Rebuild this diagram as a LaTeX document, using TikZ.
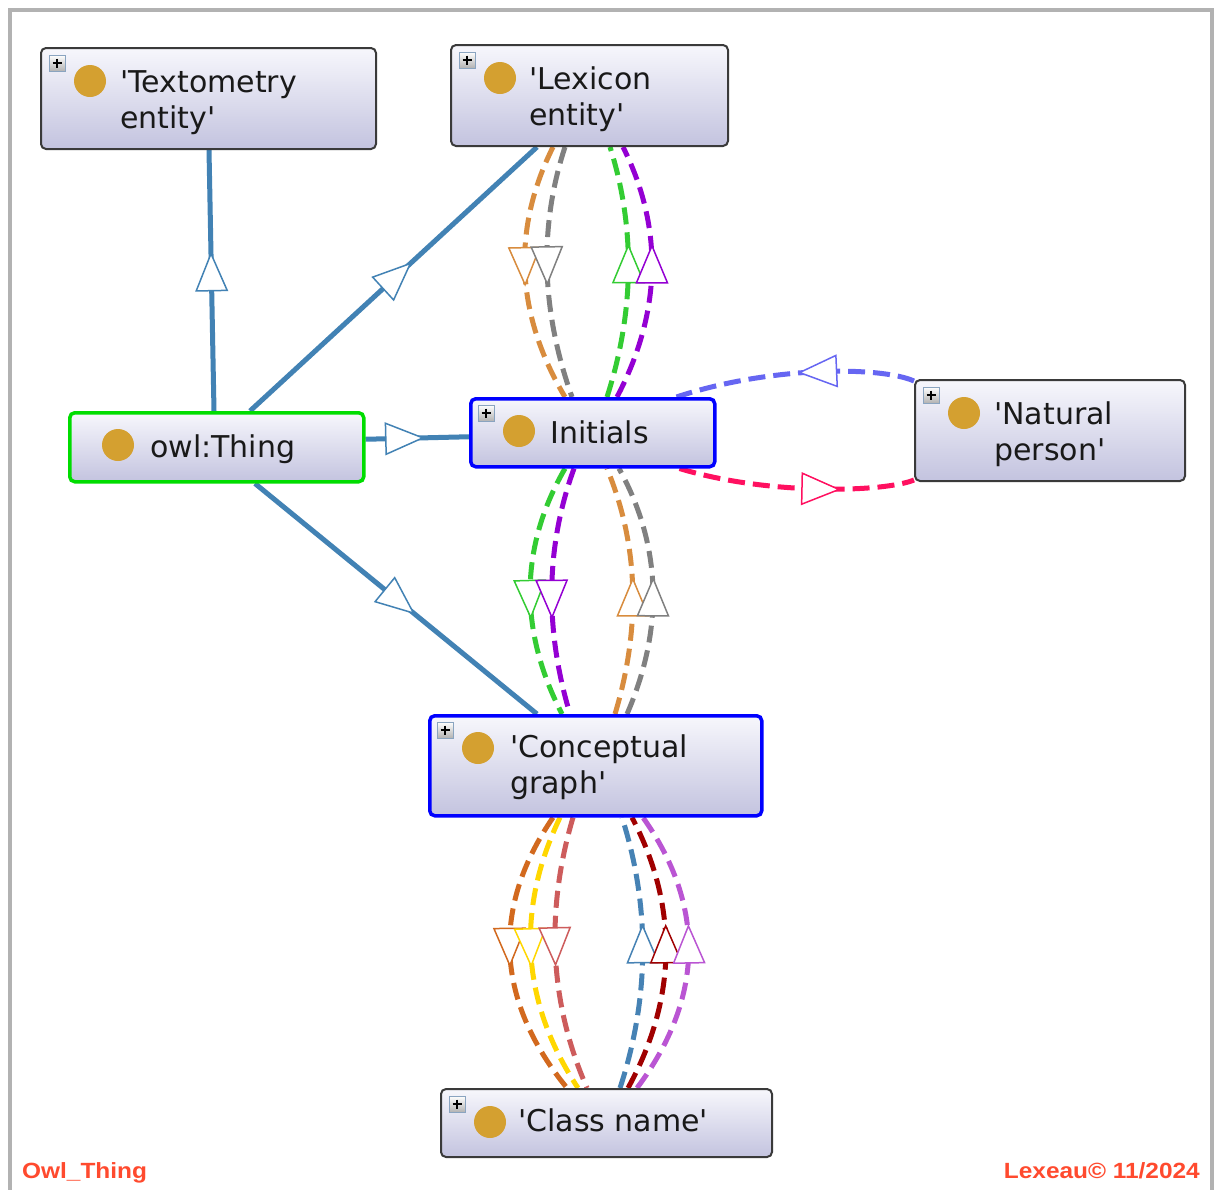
\documentclass[tikz,border=0pt]{standalone}
\usepackage{fontspec}
\newfontfamily\lblfont{DejaVu Sans}
\newfontfamily\footfont{Liberation Sans}
\usetikzlibrary{calc,decorations.markings}
\pgfdeclarelayer{bg}
\pgfsetlayers{bg,main}
\definecolor{boxtop}{HTML}{F7F7FC}
\definecolor{boxbot}{HTML}{C3C3DF}
\definecolor{boxborder}{HTML}{3A3A3A}
\definecolor{steel}{RGB}{66,130,180}
\definecolor{gold}{RGB}{212,160,48}
\definecolor{plusedge}{HTML}{8AA4C0}
\definecolor{footred}{HTML}{FF4A2E}
\definecolor{cPeru}{HTML}{D88C3E}
\definecolor{cGray}{HTML}{808080}
\definecolor{cGreen}{HTML}{33CC33}
\definecolor{cPurple}{HTML}{9400D3}
\definecolor{cViolet}{HTML}{6666F2}
\definecolor{cPink}{HTML}{FF1060}
\definecolor{cChoc}{HTML}{D2691E}
\definecolor{cYellow}{HTML}{FFD700}
\definecolor{cIndian}{HTML}{CD5C5C}
\definecolor{cSteel}{HTML}{4682B4}
\definecolor{cDarkred}{HTML}{A00000}
\definecolor{cOrchid}{HTML}{BA55D3}
\definecolor{cLime}{HTML}{00DD00}
\newcommand{\myq}{\textquotesingle}
\newcommand{\plusicon}[1]{%
  \draw[draw=plusedge, line width=0.9pt, top color=white, bottom color=black!30]
    ($(#1.north west)+(9,8)$) rectangle ($(#1.north west)+(25,24)$);
  \draw[line width=1.8pt, black]
    ($(#1.north west)+(12.5,16)$) -- ($(#1.north west)+(21.5,16)$)
    ($(#1.north west)+(17,11.5)$) -- ($(#1.north west)+(17,20.5)$);}
\newcommand{\ballicon}[1]{\fill[gold] ($(#1.north west)+(50,34)$) circle (16pt);}
\tikzset{
  cbox/.style={draw=boxborder, line width=2pt, rounded corners=5pt,
    top color=boxtop, bottom color=boxbot, inner sep=0pt, anchor=north west},
  bluebox/.style={cbox, draw=blue, line width=3.5pt},
  greenbox/.style={cbox, draw=cLime, line width=3.5pt},
  lbl/.style={font=\lblfont\fontsize{30}{36}\selectfont, inner sep=0pt, text=black!90, anchor=base west},
  foot/.style={font=\footfont\bfseries\fontsize{22}{26}\selectfont, text=footred, inner sep=0pt},
  midtri/.style 2 args={postaction={decorate, decoration={markings,
    mark=at position #2 with {\draw[solid, line width=1.5pt, draw=#1, fill=white]
      (-18pt,-15.5pt) -- (19pt,0pt) -- (-18pt,15.5pt) -- cycle;}}}},
  dedge/.style 2 args={draw=#1, line width=5pt, dash pattern=on 17pt off 8pt, midtri={#1}{#2}},
  sedge/.style={draw=steel, line width=5pt, midtri={steel}{#1}},
}
\begin{document}
\begin{tikzpicture}[x=1pt, y=-1pt]
\useasboundingbox (0,0) rectangle (1214,1189);

% boxes
\node[cbox, minimum width=335pt, minimum height=101pt] (tex) at (40,47) {};
\node[cbox, minimum width=277pt, minimum height=101pt] (lex) at (450,44) {};
\node[greenbox, minimum width=294pt, minimum height=69pt] (owl) at (68,411) {};
\node[bluebox, minimum width=244pt, minimum height=68pt] (ini) at (469,397) {};
\node[cbox, minimum width=270pt, minimum height=101pt] (nat) at (914,379) {};
\node[bluebox, minimum width=332pt, minimum height=100pt] (conc) at (428,714) {};
\node[cbox, minimum width=331pt, minimum height=68pt] (cls) at (440,1088) {};

\plusicon{tex}\plusicon{lex}\plusicon{ini}\plusicon{nat}\plusicon{conc}\plusicon{cls}
\ballicon{tex}\ballicon{lex}\ballicon{owl}\ballicon{ini}\ballicon{nat}\ballicon{conc}\ballicon{cls}

\node[lbl] (tex-t) at ($(tex.north west)+(80,45)$) {\begin{tabular}[t]{@{}l@{}}\myq Textometry\\ entity\myq\end{tabular}};
\node[lbl] (lex-t) at ($(lex.north west)+(79,45)$) {\begin{tabular}[t]{@{}l@{}}\myq Lexicon\\ entity\myq\end{tabular}};
\node[lbl] (owl-t) at ($(owl.north west)+(82,46)$) {owl:Thing};
\node[lbl] (ini-t) at ($(ini.north west)+(81,46)$) {Initials};
\node[lbl] (nat-t) at ($(nat.north west)+(80,45)$) {\begin{tabular}[t]{@{}l@{}}\myq Natural\\ person\myq\end{tabular}};
\node[lbl] (conc-t) at ($(conc.north west)+(82,43)$) {\begin{tabular}[t]{@{}l@{}}\myq Conceptual\\ graph\myq\end{tabular}};
\node[lbl] (cls-t) at ($(cls.north west)+(78,43)$) {\myq Class name\myq};

\node[foot, anchor=base west] (ft1) at (22,1178) {\scalebox{1.11}[1]{Owl\_Thing}};
\node[foot, anchor=base east] (ft2) at (1200,1178) {\scalebox{1.11}[1]{Lexeau© 11/2024}};

\begin{pgfonlayer}{bg}
\fill[white] (0,0) rectangle (1214,1189);
\draw[line width=4pt, draw=black!30] (10,1200) -- (10,10) -- (1212,10) -- (1212,1200);
% subclass edges
\draw[sedge=0.53] ($(owl.north west)+(146,0)$) -- ($(tex.south west)+(169,0)$);
\draw[sedge=0.51] ($(owl.north west)+(182,0)$) -- ($(lex.south west)+(87,0)$);
\draw[sedge=0.37] ($(owl.east)+(0,-8)$) -- ($(ini.west)+(0,4)$);
\draw[sedge=0.51] ($(owl.south west)+(187,0)$) -- ($(conc.north west)+(109,0)$);

% Lexicon <-> Initials
\draw[dedge={cPeru}{0.47}] ($(lex.south west)+(103,0)$) .. controls (512,229) and (515,313) .. ($(ini.north west)+(96,0)$);
\draw[dedge={cGray}{0.47}] ($(lex.south west)+(115,0)$) .. controls (538,229) and (542,313) .. ($(ini.north west)+(103,0)$);
\draw[dedge={cGreen}{0.53}] ($(ini.north west)+(138,0)$) .. controls (634,313) and (636,229) .. ($(lex.south west)+(160,0)$);
\draw[dedge={cPurple}{0.53}] ($(ini.north west)+(148,0)$) .. controls (661,313) and (664,229) .. ($(lex.south west)+(173,0)$);

% Initials <-> Conceptual
\draw[dedge={cGreen}{0.53}] ($(ini.south west)+(96,0)$) .. controls (519,548) and (519,631) .. ($(conc.north west)+(134,0)$);
\draw[dedge={cPurple}{0.53}] ($(ini.south west)+(105,0)$) .. controls (545,548) and (545,631) .. ($(conc.north west)+(142,0)$);
\draw[dedge={cPeru}{0.47}] ($(conc.north west)+(187,0)$) .. controls (640,631) and (640,548) .. ($(ini.south west)+(138,0)$);
\draw[dedge={cGray}{0.47}] ($(conc.north west)+(199,0)$) .. controls (663,631) and (663,548) .. ($(ini.south west)+(150,0)$);

% Initials <-> Natural person
\draw[dedge={cViolet}{0.4}] ($(nat.north west)+(0,2)$) .. controls (880,366) and (770,366) .. ($(ini.north east)+(-40,0)$);
\draw[dedge={cPink}{0.6}] ($(ini.south east)+(-37,0)$) .. controls (770,496) and (885,492) .. ($(nat.south west)+(0,-2)$);

% Conceptual <-> Class name
\draw[dedge={cChoc}{0.47}] ($(conc.south west)+(125,0)$) .. controls (493,905) and (493,997) .. ($(cls.north west)+(127,0)$);
\draw[dedge={cYellow}{0.47}] ($(conc.south west)+(132,0)$) .. controls (518,905) and (518,997) .. ($(cls.north west)+(138,0)$);
\draw[dedge={cIndian}{0.47}] ($(conc.south west)+(145,0)$) .. controls (547,905) and (547,997) .. ($(cls.north west)+(147,0)$);
\draw[dedge={cSteel}{0.53}] ($(cls.north west)+(180,0)$) .. controls (650,997) and (650,905) .. ($(conc.south west)+(194,0)$);
\draw[dedge={cDarkred}{0.53}] ($(cls.north west)+(188,0)$) .. controls (678,997) and (678,905) .. ($(conc.south west)+(204,0)$);
\draw[dedge={cOrchid}{0.53}] ($(cls.north west)+(197,0)$) .. controls (705,997) and (705,905) .. ($(conc.south west)+(215,0)$);
\end{pgfonlayer}
\end{tikzpicture}
\end{document}
